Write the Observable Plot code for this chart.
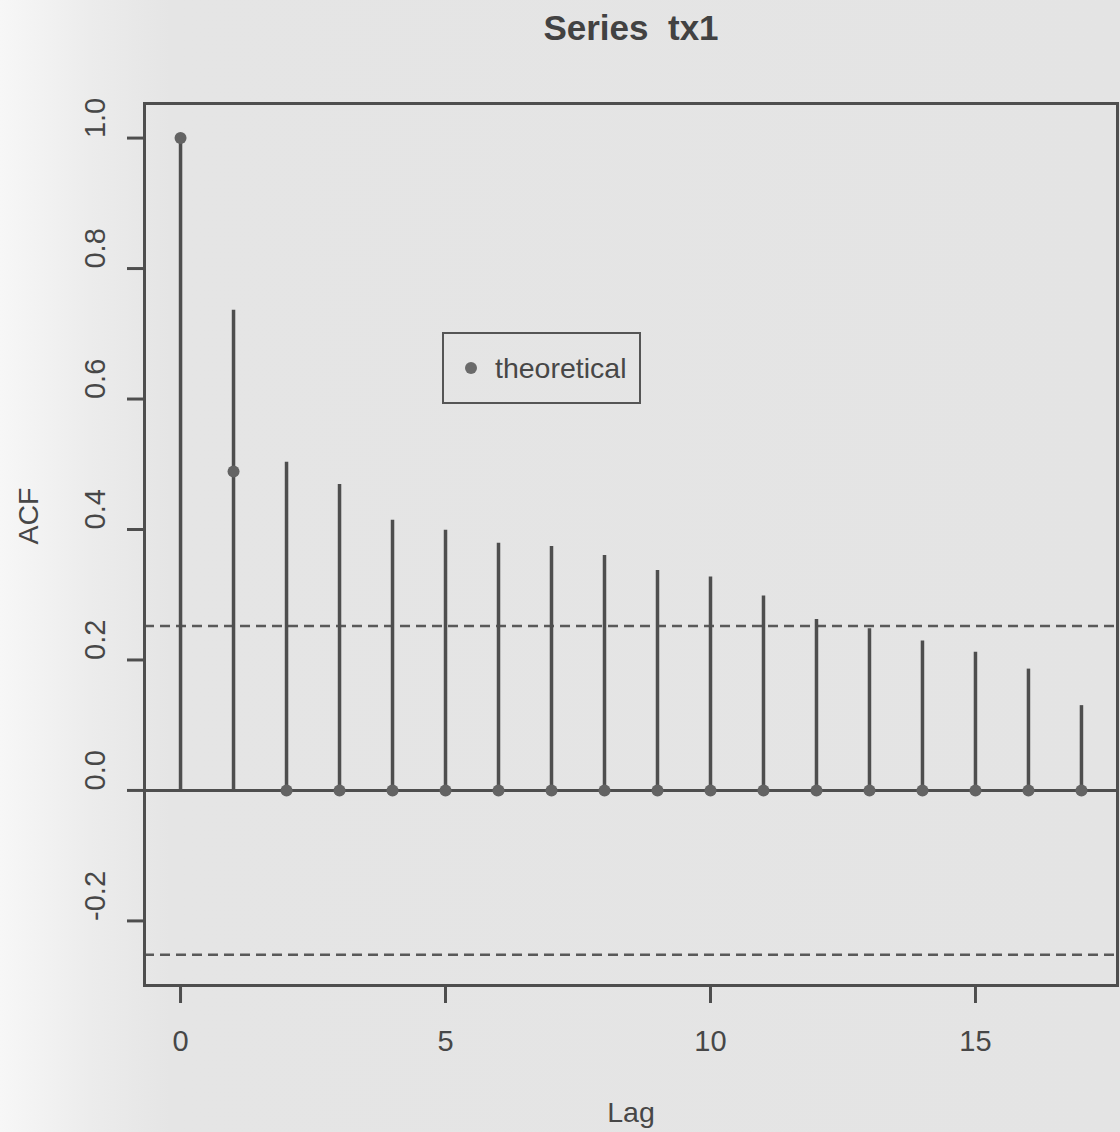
<!DOCTYPE html>
<html>
<head>
<meta charset="utf-8">
<script src="https://cdn.jsdelivr.net/npm/d3@7"></script>
<script src="https://cdn.jsdelivr.net/npm/@observablehq/plot@0.6"></script>
<style>
  html, body { margin: 0; padding: 0; }
  body {
    width: 1120px; height: 1132px; overflow: hidden;
    background: linear-gradient(to right, #f7f7f7 0px, #ececec 90px, #e5e5e5 170px, #e4e4e4 100%);
    font-family: "Liberation Sans", Arial, Helvetica, sans-serif;
  }
  #wrap { position: relative; width: 1120px; height: 1132px; }
  #legend {
    position: absolute; left: 442px; top: 332px; width: 195px; height: 68px;
    border: 2px solid #555; box-sizing: content-box;
    display: flex; align-items: center; color: #474747; font-size: 28.5px;
  }
  #legend .dot { width: 12px; height: 12px; border-radius: 50%; background: #6a6a6a; margin-left: 21px; margin-right: 18px; }
</style>
</head>
<body>
<div id="wrap"></div>
<script>
// ---- data ----
const lags = [0, 1, 2, 3, 4, 5, 6, 7, 8, 9, 10, 11, 12, 13, 14, 15, 16, 17];
const acfValues = [1.0, 0.736, 0.503, 0.469, 0.414, 0.399, 0.379, 0.374, 0.360, 0.337, 0.327, 0.298, 0.262, 0.248, 0.229, 0.212, 0.186, 0.130];
const theoreticalValues = [1.0, 0.489, 0, 0, 0, 0, 0, 0, 0, 0, 0, 0, 0, 0, 0, 0, 0, 0];
const confLimit = 0.252;
const xTicks = [0, 5, 10, 15];
const yTicks = [-0.2, 0.0, 0.2, 0.4, 0.6, 0.8, 1.0];
const titleText = "Series  tx1";
const xLabel = "Lag";
const yLabel = "ACF";
const legendLabel = "theoretical";

const acfData = lags.map((lag, i) => ({lag, acf: acfValues[i]}));
const theoData = lags.map((lag, i) => ({lag, value: theoreticalValues[i]}));

const ink = "#4e4e4e";
const textInk = "#474747";

const chart = Plot.plot({
  width: 1120,
  height: 1132,
  marginLeft: 144,
  marginRight: 3,
  marginTop: 103,
  marginBottom: 147,
  x: {domain: [-0.68, 17.68]},
  y: {domain: [-0.299, 1.053]},
  style: {background: "transparent", fontFamily: "'Liberation Sans', Arial, sans-serif", color: textInk, overflow: "visible"},
  marks: [
    Plot.ruleY([confLimit, -confLimit], {stroke: "#595959", strokeWidth: 2.5, strokeDasharray: "10,6"}),
    Plot.ruleY([0], {stroke: ink, strokeWidth: 3}),
    Plot.ruleX(acfData, {x: "lag", y1: 0, y2: "acf", stroke: ink, strokeWidth: 3.5}),
    Plot.dot(theoData, {x: "lag", y: "value", r: 6, fill: "#636363", stroke: "none"}),
    Plot.frame({stroke: ink, strokeWidth: 3}),
    Plot.axisX({ticks: xTicks, tickSize: 18, tickPadding: 27, fontSize: 29, stroke: ink, strokeWidth: 3, label: null}),
    Plot.axisY({ticks: yTicks, tickSize: 17, tickFormat: () => "", stroke: ink, strokeWidth: 3, label: null}),
    Plot.text(yTicks, {y: d => d, text: d => d.toFixed(1), frameAnchor: "left", dx: -49, rotate: -90, fontSize: 29, fill: textInk}),
    Plot.text([yLabel], {text: d => d, frameAnchor: "left", dx: -116, rotate: -90, fontSize: 28.5, fill: textInk}),
    Plot.text([xLabel], {text: d => d, frameAnchor: "bottom", dy: 136, fontSize: 28.5, fill: textInk}),
    Plot.text([titleText], {text: d => d, frameAnchor: "top", dy: -88, fontSize: 35, fontWeight: "bold", fill: "#424242"})
  ]
});
const wrap = document.getElementById("wrap");
wrap.appendChild(chart);

const legend = document.createElement("div");
legend.id = "legend";
const dot = document.createElement("span");
dot.className = "dot";
const lab = document.createElement("span");
lab.textContent = legendLabel;
legend.appendChild(dot);
legend.appendChild(lab);
wrap.appendChild(legend);
</script>
</body>
</html>
